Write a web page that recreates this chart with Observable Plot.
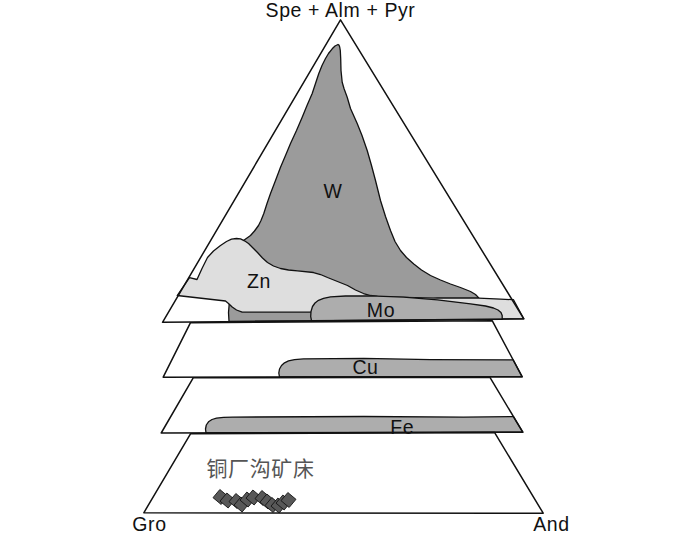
<!DOCTYPE html>
<html>
<head>
<meta charset="utf-8">
<script src="https://cdn.jsdelivr.net/npm/d3@7"></script>
<script src="https://cdn.jsdelivr.net/npm/@observablehq/plot@0.6"></script>
<style>
  body { margin: 0; background: #fff; }
  #chart { width: 700px; height: 536px; }
</style>
</head>
<body>
<div id="chart"></div>
<script>
// Diagram units (700 x 536 drawing frame, y measured downward)
// Exploded slices of the Gro – And – (Spe+Alm+Pyr) ternary diagram
const sliceTop    = [[340,19.3],[523.3,318.3],[162,321.8]];
const sliceCu     = [[190,322.2],[491.7,320.2],[521.7,376.3],[162.7,376.7]];
const sliceFe     = [[192.7,377.3],[489.3,376.7],[522.3,431.7],[160.7,432.5]];
const sliceBase   = [[190,433.3],[494,431.9],[542.7,512.7],[143.3,512.3]];

// Skarn-deposit garnet fields (outlines)
const fieldW  = [[337.5,44],[334.5,45.5],[331.7,48.3],[328,53],[325,58],[321.5,65],[318.3,73],[315,83],[311.7,93],[306.5,105],[301.7,116.7],[296,130],[290,143],[285,155],[280,166.7],[275,180],[270,193],[266.5,203],[263.3,213],[260.5,220],[258,225],[254,230.5],[250,235],[243,240],[236,262],[229,300],[228,312],[228.5,320.8],[400,320],[400,302],[437,297.6],[478.3,297.4],[475,294],[470,291],[460,287],[450,283.5],[440,279.5],[430,275],[421,269.5],[413.3,263.5],[406,257],[400,250],[394.5,241],[390,230],[385,216],[380,200],[377.5,190],[375,180],[371,165],[366.7,150],[361.5,135],[356.7,123],[350,108],[346.7,96.7],[343.5,88],[341.7,81.7],[340.5,70],[340.2,58],[339.8,50],[339.2,46.5],[338.5,44.6]];
const fieldZn = [[189,277.2],[196.5,279],[201.5,268],[207,257],[213,250.5],[220,245],[226,241],[231,238.7],[236,238],[240,238.3],[244,240.3],[248,243],[252.5,247.5],[257,252],[262,257.5],[267,262],[273,265.5],[280,268],[288,269.5],[297,270.3],[313,272],[320,274],[327,277],[337,281],[347,285],[355,289.5],[363,293],[370,295],[377,296],[403,296.8],[437,297.6],[478,297.6],[500,298.6],[513,299.2],[523.3,318.3],[400,319.6],[312,311.7],[241.7,311.7],[236,309.5],[231.7,306.5],[228,303],[225,300.5],[176.7,295]];
const fieldMo = [[311,320.2],[310.2,316],[310.5,311],[312,306],[314.5,302.5],[318,299.8],[323,297.8],[330,296.3],[345,295.5],[370,295.3],[403,296.6],[437,299.3],[470,303.3],[485,305.5],[493,307.5],[497.5,309.5],[500.5,312],[501.7,315],[501.7,318.8]];
const fieldCu = [[279,376.4],[278.3,372.5],[279,368.5],[281,365],[284,362.3],[288,360.4],[294,359.1],[303,358.4],[363.3,357.8],[430,359.2],[512.6,359.3],[521.7,376.3]];
const fieldFe = [[205.5,432.4],[205,428.5],[205.8,424.5],[208,421.3],[211.5,419],[216,417.6],[223,416.9],[232,416.6],[363,416],[463,416.6],[512.9,416.1],[522.3,431.7]];

// Tongchanggou deposit garnet analyses
const sampleX = [220,227,236,241,247,253,262,267,272,278,283,288];
const sampleY = [496.5,500,500.5,504,499,497,497.5,501,504.5,505,502,499.5];

// Labels
const labelText = ["Spe + Alm + Pyr","Gro","And","W","Zn","Mo","Cu","Fe"];
const labelX    = [340,149,551,332.5,258.5,380.5,365,401.7];
const labelY    = [10,524.5,524.5,191.5,281,310,367.5,427.5];
const depositName = "铜厂沟矿床";
const depositPos = [260,468.5];

const toRows = (pts) => pts.map(([x, y]) => ({x, y}));
const slices = [sliceTop, sliceCu, sliceFe, sliceBase].map(toRows);
const fields = [
  {pts: fieldW,  fill: "#9b9b9b"},
  {pts: fieldZn, fill: "#dedede"},
  {pts: fieldMo, fill: "#adadad"},
  {pts: fieldCu, fill: "#adadad"},
  {pts: fieldFe, fill: "#adadad"}
];
const samples = sampleX.map((x, i) => ({x, y: sampleY[i]}));
const labels = labelText.map((t, i) => ({t, x: labelX[i], y: labelY[i]}));

const marks = [];
for (const s of slices) {
  marks.push(Plot.line(s, {x: "x", y: "y", curve: "linear-closed", fill: "white", stroke: "none"}));
}
for (const f of fields) {
  marks.push(Plot.line(toRows(f.pts), {x: "x", y: "y", curve: "linear-closed", fill: f.fill, stroke: "#111", strokeWidth: 1.3}));
}
for (const s of slices) {
  marks.push(Plot.line(s, {x: "x", y: "y", curve: "linear-closed", fill: "none", stroke: "#111", strokeWidth: 1.5}));
}
marks.push(Plot.text(labels, {x: "x", y: "y", text: "t", fontSize: 19.5, fill: "#111"}));
marks.push(Plot.text([{x: depositPos[0], y: depositPos[1], t: depositName}], {x: "x", y: "y", text: "t", fontSize: 21, fill: "#555", fontFamily: "'Noto Sans CJK SC', sans-serif"}));
marks.push(Plot.dot(samples, {x: "x", y: "y", symbol: "square", r: 6, rotate: 40, fill: "#585858", stroke: "#111", strokeWidth: 0.8}));

const chart = Plot.plot({
  width: 700,
  height: 536,
  margin: 0,
  x: {domain: [0, 700], range: [0, 700], axis: null},
  y: {domain: [0, 536], range: [0, 536], axis: null},
  style: {fontFamily: "Arial, 'Liberation Sans', sans-serif", background: "white", letterSpacing: "0.6px", overflow: "visible"},
  marks
});
document.getElementById("chart").appendChild(chart);
</script>
</body>
</html>
